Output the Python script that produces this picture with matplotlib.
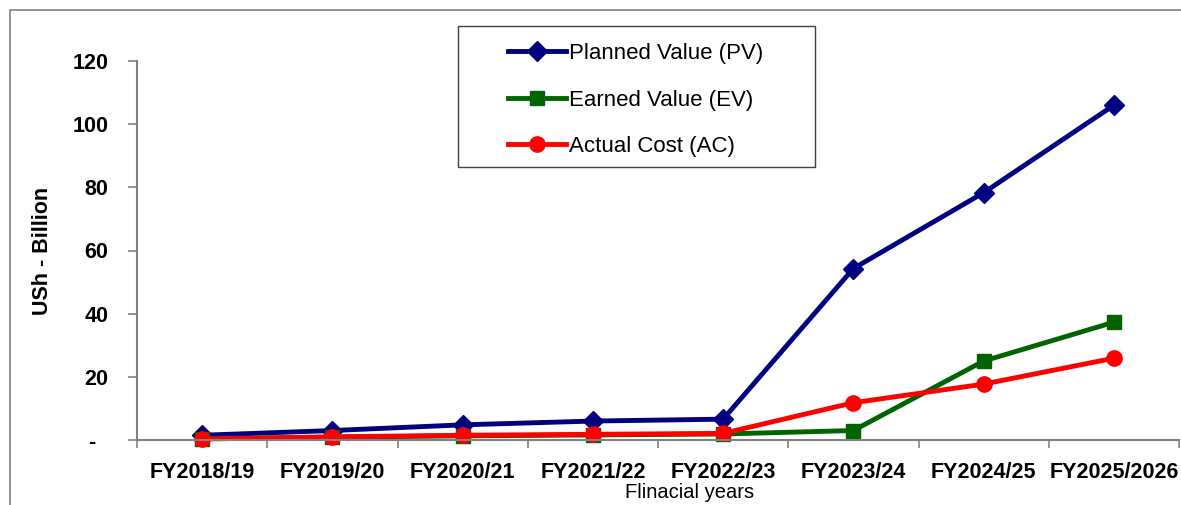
import matplotlib.pyplot as plt
from matplotlib.patches import Rectangle
from matplotlib.lines import Line2D

# Data (USh billion)
years = ["FY2018/19", "FY2019/20", "FY2020/21", "FY2021/22",
         "FY2022/23", "FY2023/24", "FY2024/25", "FY2025/2026"]
pv = [1.5, 3.0, 4.8, 6.0, 6.6, 54.3, 78.3, 106.0]
ev = [0.4, 0.9, 1.3, 1.6, 1.9, 3.0, 25.0, 37.3]
ac = [0.3, 1.0, 1.5, 1.8, 2.1, 11.8, 17.7, 25.9]
yticks = [0, 20, 40, 60, 80, 100, 120]
ytick_labels = ["-  ", "20", "40", "60", "80", "100", "120"]

W, H = 1181, 505
bold_font = ["Liberation Sans", "DejaVu Sans"]
regular = ["Liberation Sans", "DejaVu Sans"]
bsize = 15.5

fig = plt.figure(figsize=(W / 100, H / 100), dpi=100)
ax = fig.add_axes([137 / W, 1 - 440 / H, (1179 - 137) / W, (440 - 61) / H])

x = list(range(len(years)))
series = [
    (pv, "#000080", "D", 10, "Planned Value (PV)"),
    (ev, "#006400", "s", 10.5, "Earned Value (EV)"),
    (ac, "#ff0000", "o", 11, "Actual Cost (AC)"),
]
for vals, col, mk, ms, lab in series:
    ax.plot(x, vals, color=col, lw=3.5, marker=mk, markersize=ms,
            markeredgecolor=col, solid_joinstyle="miter", clip_on=False)

ax.set_xlim(-0.5, len(years) - 0.5)
ax.set_ylim(0, 120)

# category boundaries get the tick marks, centres get the labels
ax.set_xticks([i - 0.5 for i in range(len(years) + 1)])
ax.set_xticklabels([])
ax.set_xticks(x, minor=True)
ax.set_xticklabels(years, minor=True, fontfamily=bold_font, fontweight="bold",
                   fontsize=bsize)
ax.tick_params(axis="x", which="major", direction="out", length=6,
               width=1.2, color="#808080")
ax.tick_params(axis="x", which="minor", length=0, pad=16)

ax.set_yticks(yticks)
ax.set_yticklabels(ytick_labels, fontfamily=bold_font, fontweight="bold",
                   fontsize=bsize)
ax.tick_params(axis="y", direction="out", length=6.5, width=1.2,
               color="#808080", pad=14)

for side in ("top", "right"):
    ax.spines[side].set_visible(False)
for side in ("left", "bottom"):
    ax.spines[side].set_color("#808080")
    ax.spines[side].set_linewidth(1.5)

fig.text(43 / W, 1 - 251 / H, "USh - Billion", rotation=90, ha="center",
         va="center", fontfamily=bold_font, fontweight="bold", fontsize=bsize)
fig.text(690 / W, 1 - 493 / H, "Flinacial years", ha="center", va="center",
         fontfamily=regular, fontsize=14.5)

# legend with its own box
handles = [Line2D([], [], color=c, lw=3.5, marker=m, markersize=s,
                  markeredgecolor=c) for _, c, m, s, _ in series]
labels = [s[4] for s in series]
fig.legend(handles, labels, loc="upper left",
           bbox_to_anchor=(508 / W, 1 - 43 / H), bbox_transform=fig.transFigure,
           frameon=False, borderpad=0, borderaxespad=0, handlelength=2.6,
           handletextpad=0.15, labelspacing=1.15,
           prop={"family": regular, "size": 16})
fig.add_artist(Rectangle((458 / W, 1 - 167 / H), (815 - 458) / W, (167 - 26) / H,
                         transform=fig.transFigure, fill=False,
                         edgecolor="#404040", lw=1))

# outer chart frame
fig.add_artist(Rectangle((10 / W, -0.05), 1.1, 1 - 10 / H + 0.05,
                         transform=fig.transFigure, fill=False,
                         edgecolor="#808080", lw=1.2, clip_on=False))

fig.savefig("out.png", dpi=100)
